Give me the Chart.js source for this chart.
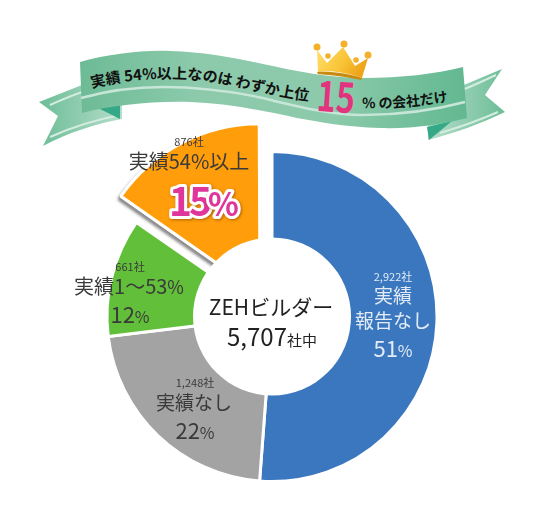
<!DOCTYPE html>
<html lang="ja">
<head>
<meta charset="utf-8">
<title>ZEHビルダー実績</title>
<script src="https://cdn.jsdelivr.net/npm/chart.js@4/dist/chart.umd.min.js"></script>
<style>
  html, body { margin: 0; padding: 0; background: #fff; }
  #wrap { position: relative; width: 536px; height: 524px; overflow: hidden; }
  #banner, #donut { position: absolute; left: 0; top: 0; }
  #banner text { font-family: "Noto Sans CJK JP", sans-serif; font-weight: 700; }
</style>
</head>
<body>
<div id="wrap">
  <svg id="banner" width="536" height="524" viewBox="0 0 536 524">
    <defs>
      <linearGradient id="bandFill" x1="0" x2="1" y1="0" y2="0">
        <stop offset="0" stop-color="#6dbb96"/>
        <stop offset="0.3" stop-color="#8ccaab"/>
        <stop offset="0.65" stop-color="#8ccaab"/>
        <stop offset="1" stop-color="#62b891"/>
      </linearGradient>
      <linearGradient id="tailLeft" x1="0" x2="1" y1="0" y2="0">
        <stop offset="0" stop-color="#6cbd97"/>
        <stop offset="1" stop-color="#b5ddc9"/>
      </linearGradient>
      <linearGradient id="tailRight" x1="1" x2="0" y1="0" y2="0">
        <stop offset="0" stop-color="#6cbd97"/>
        <stop offset="1" stop-color="#b5ddc9"/>
      </linearGradient>
      <linearGradient id="crownFill" x1="0" x2="1" y1="0" y2="0.4">
        <stop offset="0" stop-color="#ffdf6e"/>
        <stop offset="0.6" stop-color="#f9c437"/>
        <stop offset="1" stop-color="#eea51a"/>
      </linearGradient>
      <path id="lineA" d="M92 88 C125 80 165 76 205 81 C240 86 270 96 310 101"/>
      <path id="lineB" d="M362 108 C390 109 420 106 450 101"/>
    </defs>

    <path d="M82 85 L39 102 L58 116 L43 146 C70 132 95 124 122 119 L122 95 Z" fill="url(#tailLeft)"/>
    <path d="M50 105 C70 96 85 90 100 87" fill="none" stroke="#d3ecdf" stroke-width="2"/>
    <path d="M50 137 C72 127 95 120 120 115" fill="none" stroke="#d3ecdf" stroke-width="2"/>
    <path d="M98 108 L120 105 L120 119 Z" fill="#35a888"/>

    <path d="M440 95 L502 69 L485 95 L505 112 C480 124 455 133 428 140 L428 110 Z" fill="url(#tailRight)"/>
    <path d="M462 90 C475 85 485 80 496 75" fill="none" stroke="#d3ecdf" stroke-width="2"/>
    <path d="M440 133 C460 127 480 120 498 112" fill="none" stroke="#d3ecdf" stroke-width="2"/>
    <path d="M427 127 L452 121 L429 140 Z" fill="#35a888"/>

    <path d="M80 62 C110 54 140 50 170 51 C205 52 235 58 263 64 C295 71 330 78 365 78 C400 78 435 74 463 67 L467 118 C440 125 410 129 380 128 C345 127 320 122 297 118 C260 110 225 103 190 102 C150 101 115 105 82 113 Z" fill="url(#bandFill)"/>
    <path d="M81 98 C110 90 135 87 163 87 C200 87 235 92 263 98 C295 106 330 115 363 115 C400 115 435 110 465 102" fill="none" stroke="#c8e6d7" stroke-width="2.5"/>

    <g>
      <path d="M317 50 L327 63 L343 47 L355 66 L368 58 L362 78 C345 72 330 70 318 72 Z" fill="url(#crownFill)"/>
      <path d="M317 72 C332 71 350 74 362 78 L361 80 C348 77 330 75 318 74 Z" fill="#c98a12"/>
      <circle cx="317" cy="47" r="3.5" fill="#f2b02b"/>
      <circle cx="328" cy="56" r="2.8" fill="#f2b02b"/>
      <circle cx="344" cy="44" r="3.5" fill="#f2b02b"/>
      <circle cx="356" cy="60" r="2.8" fill="#f2b02b"/>
      <circle cx="368" cy="55" r="3.5" fill="#f2b02b"/>
    </g>

    <text font-size="15" fill="#111"><textPath href="#lineA">実績 54%以上なのは わずか上位</textPath></text>
    <text x="317" y="112" font-size="41" fill="#e2337f" textLength="38" lengthAdjust="spacingAndGlyphs" transform="rotate(4 336 98)">15</text>
    <text font-size="14" fill="#111"><textPath href="#lineB">% の会社だけ</textPath></text>
  </svg>
  <canvas id="donut" width="536" height="524"></canvas>
</div>

<script>
const categories = ['実績報告なし', '実績なし', '実績1〜53%', '実績54%以上'];
const companyCounts = [2922, 1248, 661, 876];
const shareLabels = ['51', '22', '12', '15'];
const sliceColors = ['#3b77bf', '#a3a3a3', '#62bf3a', '#ff9d0a'];
// Chart.js moves an arc by offset / 4, so 104 is a 26px shift
const sliceOffsets = [0, 0, 0, 104];
const totalCompanies = 5707;
const centerTitle = 'ZEHビルダー';

const textFont = '"Noto Sans CJK JP", sans-serif';
const holeRadius = 79;

// draws runs of [text, size] side by side, centred on x
function drawRuns(ctx, runs, x, y, color) {
    ctx.fillStyle = color;
    ctx.textAlign = 'left';
    ctx.textBaseline = 'alphabetic';
    let width = 0;
    runs.forEach(run => {
        ctx.font = `${run[1]}px ${textFont}`;
        width += ctx.measureText(run[0]).width;
    });
    let left = x - width / 2;
    runs.forEach(run => {
        ctx.font = `${run[1]}px ${textFont}`;
        ctx.fillText(run[0], left, y);
        left += ctx.measureText(run[0]).width;
    });
}

function countLabel(i) {
    return companyCounts[i].toLocaleString('en-US') + '社';
}

const sliceShadow = {
    id: 'sliceShadow',
    beforeDatasetsDraw(chart) {
        const ctx = chart.ctx;
        ctx.save();
        ctx.shadowColor = 'rgba(60,60,60,0.5)';
        ctx.shadowBlur = 3;
        ctx.shadowOffsetX = -2;
        ctx.shadowOffsetY = 3;
        chart.getDatasetMeta(0).data[3].draw(ctx);
        ctx.restore();
    }
};

const centerAndLabels = {
    id: 'centerAndLabels',
    afterDatasetsDraw(chart) {
        const ctx = chart.ctx;
        const arc = chart.getDatasetMeta(0).data[0];
        ctx.save();
        ctx.fillStyle = '#fff';
        ctx.beginPath();
        ctx.arc(arc.x, arc.y, holeRadius, 0, Math.PI * 2);
        ctx.fill();

        const dark = '#3a3a3a';
        const light = '#e3ecf6';

        drawRuns(ctx, [[centerTitle, 21]], 271, 315, '#222');
        drawRuns(ctx, [[totalCompanies.toLocaleString('en-US'), 24], ['社中', 15]], 272, 346, '#222');

        // blue
        drawRuns(ctx, [[countLabel(0), 11]], 393, 281, light);
        drawRuns(ctx, [['実績', 19]], 393, 303, light);
        drawRuns(ctx, [['報告なし', 19]], 393, 328, light);
        drawRuns(ctx, [[shareLabels[0], 22], ['%', 16]], 393, 357, light);

        // grey
        drawRuns(ctx, [[countLabel(1), 11]], 195, 387, dark);
        drawRuns(ctx, [[categories[1], 19]], 194, 410, dark);
        drawRuns(ctx, [[shareLabels[1], 22], ['%', 16]], 195, 439, dark);

        // green
        drawRuns(ctx, [[countLabel(2), 11]], 130, 271, dark);
        drawRuns(ctx, [['実績1〜53', 20], ['%', 18]], 129, 294, dark);
        drawRuns(ctx, [[shareLabels[2], 22], ['%', 16]], 130, 323, dark);

        // orange
        drawRuns(ctx, [[countLabel(3), 11]], 189, 146, dark);
        drawRuns(ctx, [['実績54%以上', 20]], 189, 169, dark);

        // the big 15% has a white outline and soft shadow
        ctx.textAlign = 'left';
        ctx.textBaseline = 'alphabetic';
        ctx.lineJoin = 'round';
        ctx.letterSpacing = '-3px';
        [[shareLabels[3], 169, 39], ['%', 208, 32]].forEach(part => {
            ctx.font = `bold ${part[2]}px ${textFont}`;
            ctx.shadowColor = 'rgba(120,60,0,0.6)';
            ctx.shadowBlur = 3;
            ctx.shadowOffsetX = 1;
            ctx.shadowOffsetY = 1;
            ctx.strokeStyle = '#fff';
            ctx.lineWidth = 6;
            ctx.strokeText(part[0], part[1], 216);
            ctx.shadowColor = 'transparent';
            ctx.fillStyle = '#e0359a';
            ctx.fillText(part[0], part[1], 216);
        });
        ctx.restore();
    }
};

new Chart(document.getElementById('donut'), {
    type: 'doughnut',
    data: {
        labels: categories,
        datasets: [{
            data: companyCounts,
            backgroundColor: sliceColors,
            borderColor: '#fff',
            borderWidth: 3,
            offset: sliceOffsets
        }]
    },
    options: {
        responsive: false,
        animation: false,
        radius: 165,
        cutout: 40,
        layout: { padding: { left: 8, top: 109 } },
        plugins: {
            legend: { display: false },
            tooltip: { enabled: false }
        }
    },
    plugins: [sliceShadow, centerAndLabels]
});
</script>
</body>
</html>
